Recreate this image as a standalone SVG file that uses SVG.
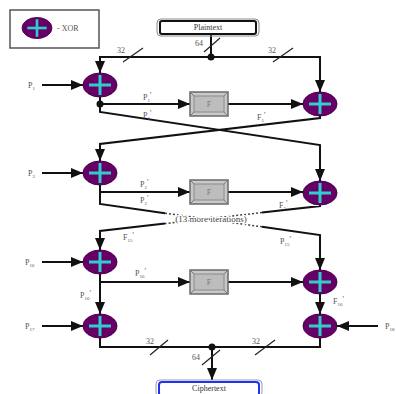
<svg xmlns="http://www.w3.org/2000/svg" width="396" height="394" viewBox="0 0 396 394">
  <style>
    .ln { fill: none; stroke: #111; stroke-width: 2; }
    .dot { fill: none; stroke: #444; stroke-width: 1.5; stroke-dasharray: 2 2; }
    .sl { stroke: #222; stroke-width: 1.2; }
    .xor { fill: #660066; stroke: #4a004a; stroke-width: 1; }
    .plus { stroke: #33cccc; stroke-width: 3; stroke-linecap: butt; }
    .lbl { font-family: "Liberation Serif", serif; font-size: 8px; fill: #555; }
    .sub { font-size: 5px; }
    .box { font-family: "Liberation Serif", serif; font-size: 8px; fill: #333; text-anchor: middle; }
    .fo { fill: #c8c8c8; stroke: #6a6a6a; stroke-width: 1.5; }
    .fi { fill: #bdbdbd; stroke: #8a8a8a; stroke-width: 1; }
    .ft { font-family: "Liberation Serif", serif; font-size: 8px; fill: #777; text-anchor: middle; }
    .iter { font-family: "Liberation Serif", serif; font-size: 9px; fill: #444; text-anchor: middle; paint-order: stroke; stroke: #fff; stroke-width: 2px; }
  </style>
  <defs>
    <marker id="arr" markerUnits="userSpaceOnUse" markerWidth="12" markerHeight="10" refX="12" refY="5" orient="auto">
      <path d="M0,0 L12,5 L0,10 z" fill="#111"/>
    </marker>
    <g id="xorSym">
      <ellipse class="xor" cx="0" cy="0" rx="17" ry="12"/>
      <line class="plus" x1="-11" y1="0" x2="11" y2="0"/>
      <line class="plus" x1="0" y1="-10" x2="0" y2="10"/>
    </g>
    <g id="fSym">
      <rect class="fo" x="0" y="0" width="38" height="24"/>
      <rect class="fi" x="4" y="4" width="30" height="16"/>
      <line x1="0" y1="0" x2="4" y2="4" stroke="#777" stroke-width="1"/>
      <line x1="38" y1="0" x2="34" y2="4" stroke="#777" stroke-width="1"/>
      <line x1="0" y1="24" x2="4" y2="20" stroke="#777" stroke-width="1"/>
      <line x1="38" y1="24" x2="34" y2="20" stroke="#777" stroke-width="1"/>
      <text class="ft" x="19" y="15">F</text>
    </g>
  </defs>

  <rect width="396" height="394" fill="#fff"/>

  <!-- legend -->
  <g id="legend">
    <rect x="10" y="10" width="89" height="38" fill="#fff" stroke="#555" stroke-width="1.5"/>
    <g transform="translate(37,28) scale(0.88)"><use href="#xorSym"/></g>
    <text class="lbl" x="57" y="31" font-size="9">- XOR</text>
  </g>

  <!-- connectors -->
  <g id="connectors">
    <line class="ln" x1="211" y1="35" x2="211" y2="57"/>
    <path class="ln" d="M211,57 H100 V73" marker-end="url(#arr)"/>
    <path class="ln" d="M211,57 H320 V92" marker-end="url(#arr)"/>

    <!-- round 1 -->
    <line class="ln" x1="42" y1="85" x2="83" y2="85" marker-end="url(#arr)"/>
    <path class="ln" d="M100,97 V104 H190" marker-end="url(#arr)"/>
    <line class="ln" x1="228" y1="104" x2="303" y2="104" marker-end="url(#arr)"/>
    <path class="ln" d="M100,104 V112 L320,145 V181" marker-end="url(#arr)"/>
    <path class="ln" d="M320,116 V118 L100,144 V161" marker-end="url(#arr)"/>

    <!-- round 2 -->
    <line class="ln" x1="42" y1="173" x2="83" y2="173" marker-end="url(#arr)"/>
    <path class="ln" d="M100,185 V192 H190" marker-end="url(#arr)"/>
    <line class="ln" x1="228" y1="192" x2="303" y2="192" marker-end="url(#arr)"/>
    <path class="ln" d="M100,192 V204 L165,213.2"/>
    <path class="dot" d="M165,213.2 L262,226.8"/>
    <path class="ln" d="M262,226.8 L320,235 V270" marker-end="url(#arr)"/>
    <path class="ln" d="M320,205 V206 L262,212.6"/>
    <path class="dot" d="M262,212.6 L165,223.6"/>
    <path class="ln" d="M165,223.6 L100,231 V250" marker-end="url(#arr)"/>

    <!-- round 16 -->
    <line class="ln" x1="42" y1="262" x2="83" y2="262" marker-end="url(#arr)"/>
    <path class="ln" d="M100,274 V314" marker-end="url(#arr)"/>
    <line class="ln" x1="100" y1="282" x2="190" y2="282" marker-end="url(#arr)"/>
    <line class="ln" x1="228" y1="282" x2="303" y2="282" marker-end="url(#arr)"/>
    <path class="ln" d="M320,294 V314" marker-end="url(#arr)"/>

    <!-- output whitening -->
    <line class="ln" x1="42" y1="326" x2="83" y2="326" marker-end="url(#arr)"/>
    <line class="ln" x1="378" y1="326" x2="337" y2="326" marker-end="url(#arr)"/>
    <path class="ln" d="M100,338 V347 H320 V338"/>
    <line class="ln" x1="212" y1="347" x2="212" y2="380" marker-end="url(#arr)"/>

    <circle cx="211" cy="57" r="3.5" fill="#111"/>
    <circle cx="100" cy="104" r="3.5" fill="#111"/>
    <circle cx="212" cy="347" r="3.5" fill="#111"/>

    <!-- bus width marks -->
    <line class="sl" x1="123" y1="62" x2="143" y2="48"/>
    <line class="sl" x1="273" y1="62" x2="293" y2="48"/>
    <line class="sl" x1="204" y1="52" x2="220" y2="38"/>
    <line class="sl" x1="150" y1="355" x2="168" y2="340"/>
    <line class="sl" x1="255" y1="355" x2="275" y2="340"/>
    <line class="sl" x1="202" y1="365" x2="220" y2="350"/>
  </g>

  <!-- labels -->
  <g id="labels">
    <text class="lbl" x="117" y="53">32</text>
    <text class="lbl" x="268" y="53">32</text>
    <text class="lbl" x="195" y="46">64</text>
    <text class="lbl" x="146" y="344">32</text>
    <text class="lbl" x="252" y="344">32</text>
    <text class="lbl" x="192" y="360">64</text>

    <text class="lbl" x="28" y="88">P<tspan class="sub" dy="1.5">1</tspan></text>
    <text class="lbl" x="28" y="176">P<tspan class="sub" dy="1.5">2</tspan></text>
    <text class="lbl" x="25" y="265">P<tspan class="sub" dy="1.5">16</tspan></text>
    <text class="lbl" x="25" y="329">P<tspan class="sub" dy="1.5">17</tspan></text>
    <text class="lbl" x="385" y="329">P<tspan class="sub" dy="1.5">18</tspan></text>

    <text class="lbl" x="143" y="100">P<tspan class="sub" dy="1.5">1</tspan><tspan dy="-4">'</tspan></text>
    <text class="lbl" x="143" y="118">P<tspan class="sub" dy="1.5">1</tspan><tspan dy="-4">'</tspan></text>
    <text class="lbl" x="257" y="120">F<tspan class="sub" dy="1.5">1</tspan><tspan dy="-4">'</tspan></text>

    <text class="lbl" x="140" y="187">P<tspan class="sub" dy="1.5">2</tspan><tspan dy="-4">'</tspan></text>
    <text class="lbl" x="140" y="203">P<tspan class="sub" dy="1.5">2</tspan><tspan dy="-4">'</tspan></text>
    <text class="lbl" x="279" y="208">F<tspan class="sub" dy="1.5">2</tspan><tspan dy="-4">'</tspan></text>

    <text class="iter" x="211" y="222">(13 more iterations)</text>
    <text class="lbl" x="123" y="240">F<tspan class="sub" dy="1.5">15</tspan><tspan dy="-4">'</tspan></text>
    <text class="lbl" x="280" y="244">P<tspan class="sub" dy="1.5">15</tspan><tspan dy="-4">'</tspan></text>

    <text class="lbl" x="135" y="276">P<tspan class="sub" dy="1.5">16</tspan><tspan dy="-4">'</tspan></text>
    <text class="lbl" x="80" y="298">P<tspan class="sub" dy="1.5">16</tspan><tspan dy="-4">'</tspan></text>
    <text class="lbl" x="333" y="304">F<tspan class="sub" dy="1.5">16</tspan><tspan dy="-4">'</tspan></text>
  </g>

  <!-- nodes -->
  <g id="plaintext">
    <rect x="157" y="19" width="102" height="17" rx="4" fill="none" stroke="#888" stroke-width="1"/>
    <rect x="160" y="21" width="96" height="13" rx="2" fill="#fff" stroke="#111" stroke-width="2"/>
    <text class="box" x="208" y="30">Plaintext</text>
  </g>
  <g id="ciphertext">
    <rect x="156" y="380" width="106" height="17" rx="4" fill="none" stroke="#9999bb" stroke-width="1"/>
    <rect x="159" y="382" width="100" height="14" rx="3" fill="#fff" stroke="#2233ee" stroke-width="2"/>
    <text class="box" x="209" y="391">Ciphertext</text>
  </g>

  <g id="xor1L" transform="translate(100,85)"><use href="#xorSym"/></g>
  <g id="xor1R" transform="translate(320,104)"><use href="#xorSym"/></g>
  <g id="xor2L" transform="translate(100,173)"><use href="#xorSym"/></g>
  <g id="xor2R" transform="translate(320,193)"><use href="#xorSym"/></g>
  <g id="xor16L" transform="translate(100,262)"><use href="#xorSym"/></g>
  <g id="xor16R" transform="translate(320,282)"><use href="#xorSym"/></g>
  <g id="xor17" transform="translate(100,326)"><use href="#xorSym"/></g>
  <g id="xor18" transform="translate(320,326)"><use href="#xorSym"/></g>

  <g id="f1" transform="translate(190,92)"><use href="#fSym"/></g>
  <g id="f2" transform="translate(190,180)"><use href="#fSym"/></g>
  <g id="f16" transform="translate(190,270)"><use href="#fSym"/></g>
</svg>
